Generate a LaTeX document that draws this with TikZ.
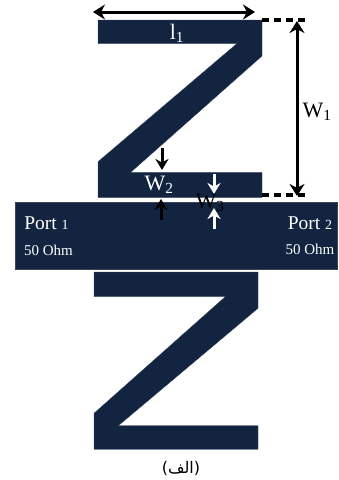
\documentclass[tikz,border=0pt]{standalone}
\usepackage{fontspec}
\setmainfont{Liberation Serif}
\newfontfamily\arabicfont[Script=Arabic]{DejaVu Sans}
\TeXXeTstate=1
\usetikzlibrary{arrows.meta}
\definecolor{navy}{HTML}{12243F}
\tikzset{
  panel/.style={fill=navy,draw=navy!85!white,line width=0.3pt},
  dimarrow/.style={line width=3pt,-{Stealth[length=11pt,width=13pt]}},
  dimboth/.style={line width=3pt,{Stealth[length=12pt,width=15pt]}-{Stealth[length=12pt,width=15pt]}},
  guide/.style={line width=3.4pt,dash pattern=on 7pt off 5pt},
  lab/.style={inner sep=0pt,font=\fontsize{22}{22}\selectfont},
  small/.style={inner sep=0pt,text=white,font=\fontsize{15}{15}\selectfont},
  port/.style={inner sep=0pt,text=white,font=\fontsize{19.5}{19.5}\selectfont}
}
\begin{document}
\begin{tikzpicture}[x=1pt,y=-1pt]
\useasboundingbox (0,0) rectangle (339,480);
% top Z
\draw[panel] (98,20) -- (262,20) -- (262,56) -- (130.7,172.3) -- (262,172.3) -- (262,197.5) -- (98,197.5) -- (98,161.7) -- (237,43.5) -- (98,43.5) -- cycle;
% feed line
\node[panel,minimum width=322pt,minimum height=67.5pt,inner sep=0pt,anchor=north west] (feed) at (14.5,201.5) {};
% bottom Z
\draw[panel] (94,272) -- (258,272) -- (258,308.3) -- (118.3,425.7) -- (258,425.7) -- (258,449.3) -- (94,449.3) -- (94,413.3) -- (225.3,296.7) -- (94,296.7) -- cycle;
% coordinates
\coordinate (la) at (93,12);
\coordinate (lb) at (255,12);
\coordinate (ga) at (262,20);
\coordinate (gb) at (308,20);
\coordinate (gc) at (262,195);
\coordinate (gd) at (308,195);
\coordinate (wa) at (297,21);
\coordinate (wb) at (297,196);
\coordinate (p) at (162,148);
\coordinate (q) at (162,170);
\coordinate (r) at (161,220);
\coordinate (s) at (161,199);
\coordinate (t) at (214,174);
\coordinate (u) at (214,194);
\coordinate (v) at (214,229);
\coordinate (w) at (214,208);
% dimensions
\draw[dimboth] (la) -- (lb);
\draw[guide] (ga) -- (gb);
\draw[guide] (gc) -- (gd);
\draw[dimboth] (wa) -- (wb);
\draw[dimarrow] (p) -- (q);
\draw[dimarrow] (r) -- (s);
\draw[dimarrow,white] (t) -- (u);
\draw[dimarrow,white] (v) -- (w);
% labels
\node[lab,text=white] (l1) at (177,33) {l\textsubscript{1}};
\node[lab] (w1) at (317,112) {W\textsubscript{1}};
\node[lab,text=white] (w2) at (159,185) {W\textsubscript{2}};
\node[lab] (w3) at (210,203) {W\textsubscript{3}};
\node[port] (p1) at (46.5,223.5) {Port \fontsize{14}{14}\selectfont 1};
\node[small] (o1) at (48.5,250) {50 Ohm};
\node[port] (p2) at (310,223.5) {Port \fontsize{14}{14}\selectfont 2};
\node[small] (o2) at (310,249) {50 Ohm};
\node[inner sep=0pt,font=\arabicfont\fontsize{16}{16}\selectfont] (cap) at (181,468) {\beginR (الف)\endR};
\end{tikzpicture}
\end{document}
